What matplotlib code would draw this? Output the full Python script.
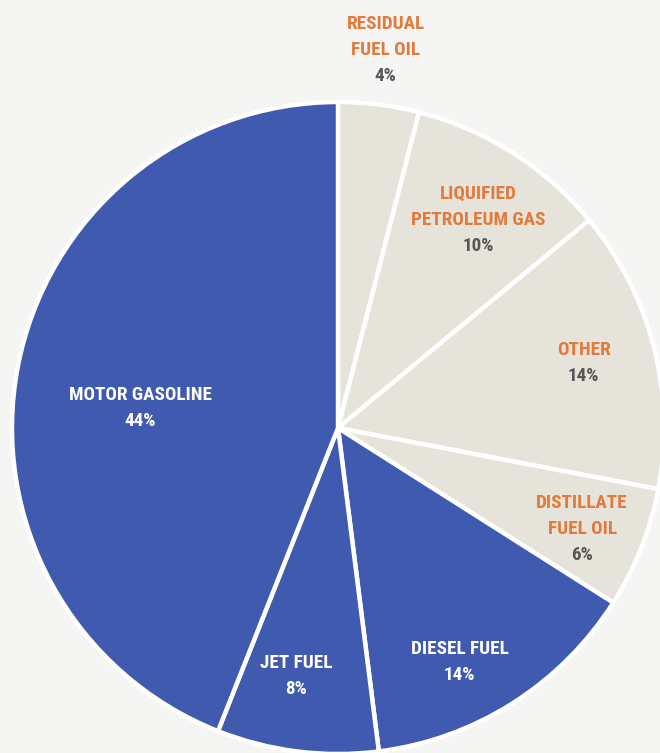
import numpy as np
import matplotlib.pyplot as plt

# share of each product, clockwise from 12 o'clock
products = ['RESIDUAL\nFUEL OIL', 'LIQUIFIED\nPETROLEUM GAS', 'OTHER',
            'DISTILLATE\nFUEL OIL', 'DIESEL FUEL', 'JET FUEL', 'MOTOR GASOLINE']
shares = [4, 10, 14, 6, 14, 8, 44]
is_transport = [False, False, False, False, True, True, True]

BLUE = '#3f5aae'
BEIGE = '#e6e3da'
ORANGE = '#e27a3c'
GRAY = '#575757'
BG = '#f5f5f4'

# where each label block sits: fraction of radius, nudge in degrees
label_r = [1.17, 0.77, 0.78, 0.81, 0.81, 0.77, 0.61]
label_nudge = [0, -1.5, 0.5, -0.8, -5, -2.4, 5]

plt.rcParams['font.family'] = ['Roboto Condensed', 'Liberation Sans Narrow',
                               'Roboto', 'DejaVu Sans']

fig = plt.figure(figsize=(6.6, 7.53), dpi=100, facecolor=BG)
ax = fig.add_axes([0, 0, 1, 1])
ax.set_facecolor(BG)

cx, cy, R = 338, 325, 326
colors = [BLUE if t else BEIGE for t in is_transport]
wedges, _ = ax.pie(shares, colors=colors, startangle=90, counterclock=False,
                   center=(cx, cy), radius=R, frame=True,
                   wedgeprops=dict(edgecolor='white', linewidth=3.2))
ax.set_xlim(0, 660)
ax.set_ylim(0, 753)
ax.set_aspect('equal')
ax.axis('off')

step = 26
for w, name, pct, t, rf, nd in zip(wedges, products, shares, is_transport,
                                    label_r, label_nudge):
    mid = np.deg2rad((w.theta1 + w.theta2) / 2 + nd)
    x = cx + rf * R * np.cos(mid)
    y = cy + rf * R * np.sin(mid)
    lines = name.split('\n')
    n = len(lines) + 1
    top = y + (n - 1) / 2 * step
    name_col = 'white' if t else ORANGE
    pct_col = 'white' if t else GRAY
    for i, ln in enumerate(lines):
        ax.text(x, top - i * step, ln, ha='center', va='center',
                fontsize=13.8, fontweight='bold', color=name_col)
    ax.text(x, top - len(lines) * step, f'{pct}%', ha='center', va='center',
            fontsize=13.8, fontweight='bold', color=pct_col)

fig.savefig('out.png', dpi=100, facecolor=BG)
